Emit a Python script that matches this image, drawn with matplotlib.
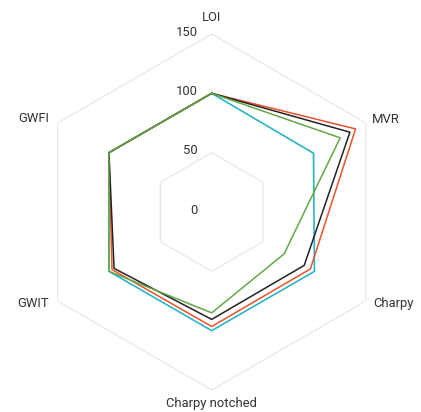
import numpy as np
import matplotlib
matplotlib.use("Agg")
import matplotlib.pyplot as plt

plt.rcParams['font.family'] = ['Roboto', 'DejaVu Sans']

categories = ["LOI", "MVR", "Charpy", "Charpy notched", "GWIT", "GWFI"]
# series values (cyan looks like the 100 reference)
cyan = [100, 99, 100, 100, 100, 100]
red = [100, 140, 96, 96.5, 97, 100]
black = [100, 134.5, 90, 90.5, 95, 100]
green = [100, 125, 70.5, 85, 100, 100]
series = [(cyan, "#1db4c8"), (red, "#f0502a"), (black, "#222222"), (green, "#62a845")]
rings = [50, 100, 150]
ring_labels = ["0", "50", "100", "150"]

W, H = 421, 412
fig = plt.figure(figsize=(W / 100, H / 100), dpi=100)
cx, cy, R = 211.7, 212, 178
ax = fig.add_axes([(cx - R) / W, (H - cy - R) / H, 2 * R / W, 2 * R / H], projection="polar")
ax.set_theta_offset(np.pi / 2)
ax.set_theta_direction(-1)
ax.set_ylim(0, 150)
ax.grid(False)
ax.set_xticks([])
ax.set_yticks([])
ax.spines["polar"].set_visible(False)
ax.patch.set_alpha(0)

n = len(categories)
theta = np.linspace(0, 2 * np.pi, n, endpoint=False)
theta_c = np.append(theta, theta[0])

for r in rings:
    ax.plot(theta_c, [r] * (n + 1), color="#e8e8e8", lw=0.9, zorder=1)

for vals, col in series:
    v = list(vals) + [vals[0]]
    ax.plot(theta_c, v, color=col, lw=1.1, zorder=3, clip_on=False)

txt = dict(fontsize=9.4, color="#333333")
# radial tick labels along the top axis
for lab, r in zip(ring_labels, [0] + rings):
    ax.annotate(lab, (0, r), xytext=(-14, 2), textcoords="offset pixels",
                ha="right", va="center", annotation_clip=False, **txt)

# axis labels
offsets = [((0, 17), "center", "center"),
           ((6, 4), "left", "center"),
           ((7, -3), "left", "center"),
           ((0, -14), "center", "center"),
           ((-9, -2), "right", "center"),
           ((-8, 5), "right", "center")]
for lab, t, (off, ha, va) in zip(categories, theta, offsets):
    ax.annotate(lab, (t, 150), xytext=off, textcoords="offset pixels",
                ha=ha, va=va, annotation_clip=False, **txt)

fig.savefig("out.png", dpi=100)
